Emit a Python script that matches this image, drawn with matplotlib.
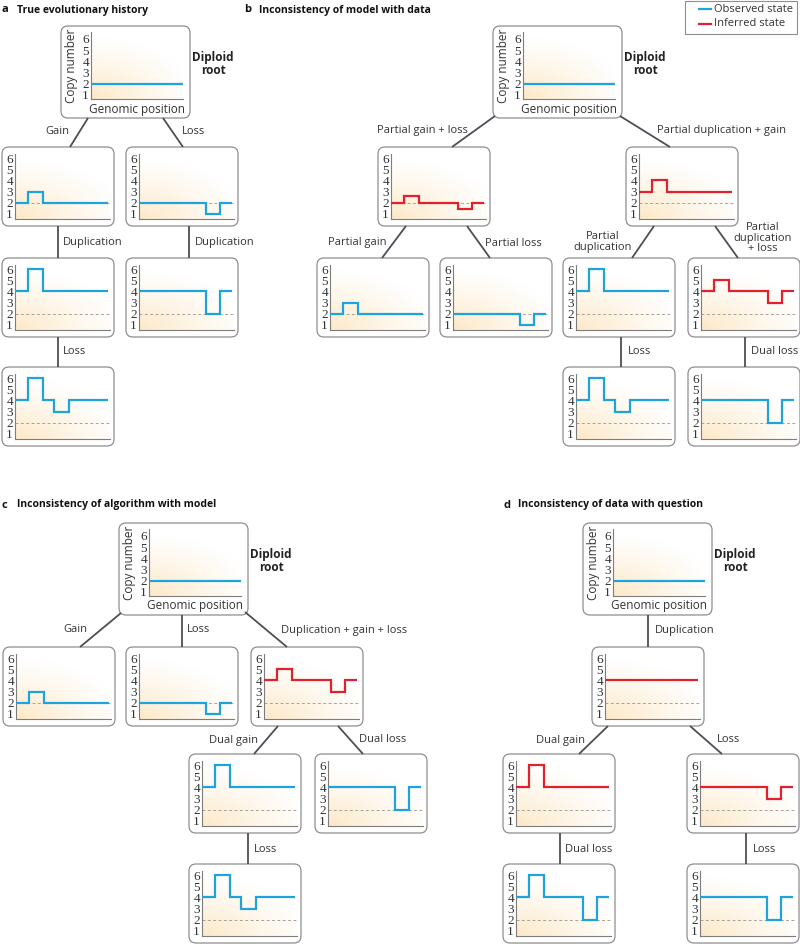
import numpy as np
import matplotlib.pyplot as plt
from matplotlib.patches import FancyBboxPatch, Rectangle

plt.rcParams['font.family'] = ['Open Sans', 'DejaVu Sans']

W, H = 800, 944
OBS = '#1fa3dd'
INF = '#e3212d'
LINK = '#4b5056'

# segment boundaries along the genome (fraction of genomic position)
edges = [0.0, 0.14, 0.30, 0.42, 0.58, 0.72, 0.87, 1.0]

# copy number of every segment
diploid = [2, 2, 2, 2, 2, 2, 2]
gain = [2, 3, 2, 2, 2, 2, 2]
loss = [2, 2, 2, 2, 2, 1, 2]
partial_gain_loss = [2, 2.6, 2, 2, 2, 1.4, 2]
partial_dup_gain = [3, 4, 3, 3, 3, 3, 3]
tetraploid = [4, 4, 4, 4, 4, 4, 4]
dup_gain = [4, 6, 4, 4, 4, 4, 4]
dup_loss = [4, 4, 4, 4, 4, 2, 4]
dup_gain_midloss = [4, 6, 4, 3, 4, 4, 4]
dup_gain_loss = [4, 5, 4, 4, 4, 3, 4]
dup_single_loss = [4, 4, 4, 4, 4, 3, 4]
dup_gain_dual_loss = [4, 6, 4, 4, 4, 2, 4]

# tree nodes: box top-left (px), profile, observed/inferred, root box?
nodes = [
    # a
    (61, 26, diploid, OBS, True),
    (2, 147, gain, OBS, False), (126, 147, loss, OBS, False),
    (2, 258, dup_gain, OBS, False), (126, 258, dup_loss, OBS, False),
    (2, 367, dup_gain_midloss, OBS, False),
    # b
    (493, 26, diploid, OBS, True),
    (378, 147, partial_gain_loss, INF, False), (626, 147, partial_dup_gain, INF, False),
    (317, 258, gain, OBS, False), (440, 258, loss, OBS, False),
    (563, 258, dup_gain, OBS, False), (688, 258, dup_gain_loss, INF, False),
    (563, 367, dup_gain_midloss, OBS, False), (688, 367, dup_loss, OBS, False),
    # c
    (119, 523, diploid, OBS, True),
    (3, 647, gain, OBS, False), (126, 647, loss, OBS, False), (251, 647, dup_gain_loss, INF, False),
    (189, 754, dup_gain, OBS, False), (315, 754, dup_loss, OBS, False),
    (189, 864, dup_gain_midloss, OBS, False),
    # d
    (583, 523, diploid, OBS, True),
    (592, 647, tetraploid, INF, False),
    (503, 754, dup_gain, INF, False), (687, 754, dup_single_loss, INF, False),
    (503, 864, dup_gain_dual_loss, OBS, False), (687, 864, dup_loss, OBS, False),
]

links = [
    (88, 118, 70, 147), (163, 118, 183, 147), (58, 226, 58, 258), (189, 226, 189, 258),
    (58, 337, 58, 367),
    (495, 116, 452, 147), (620, 116, 670, 147), (406, 226, 382, 258), (467, 226, 490, 258),
    (654, 226, 632, 258), (715, 226, 738, 258), (621, 337, 621, 367), (745, 337, 745, 367),
    (121, 613, 80, 647), (182, 615, 182, 647), (245, 612, 287, 647),
    (278, 726, 254, 754), (338, 726, 363, 754), (248, 833, 248, 864),
    (648, 615, 648, 647), (608, 726, 579, 754), (690, 726, 722, 754),
    (560, 833, 560, 864), (746, 833, 746, 864),
]

labels = [
    (45, 132, 'Gain', 'left'), (182, 132, 'Loss', 'left'),
    (63, 243, 'Duplication', 'left'), (195, 243, 'Duplication', 'left'),
    (63, 352, 'Loss', 'left'),
    (377, 130, 'Partial gain + loss', 'left'), (657, 130, 'Partial duplication + gain', 'left'),
    (328, 243, 'Partial gain', 'left'), (485, 243, 'Partial loss', 'left'),
    (603, 242, 'Partial\nduplication', 'center'), (763, 238, 'Partial\nduplication\n+ loss', 'center'),
    (628, 352, 'Loss', 'left'), (751, 352, 'Dual loss', 'left'),
    (63, 629, 'Gain', 'left'), (187, 629, 'Loss', 'left'), (281, 630, 'Duplication + gain + loss', 'left'),
    (209, 740, 'Dual gain', 'left'), (359, 740, 'Dual loss', 'left'), (254, 850, 'Loss', 'left'),
    (655, 630, 'Duplication', 'left'), (536, 740, 'Dual gain', 'left'), (717, 740, 'Loss', 'left'),
    (565, 850, 'Dual loss', 'left'), (753, 850, 'Loss', 'left'),
]

titles = [
    (2, 10, 'a', 'True evolutionary history'),
    (244, 10, 'b', 'Inconsistency of model with data'),
    (2, 505, 'c', 'Inconsistency of algorithm with model'),
    (503, 505, 'd', 'Inconsistency of data with question'),
]


def to_fig(x, y, w, h):
    return [x / W, 1 - (y + h) / H, w / W, h / H]


fig = plt.figure(figsize=(8, 9.44), dpi=100)
canvas = fig.add_axes([0, 0, 1, 1])
canvas.set_xlim(0, W)
canvas.set_ylim(H, 0)
canvas.axis('off')

# warm gradient used behind every profile
gu, gv = np.meshgrid(np.linspace(0, 1, 80), np.linspace(0, 1, 80))
wgt = np.clip(1 - np.sqrt((gu * 0.85) ** 2 + (gv * 1.05) ** 2), 0, 1) ** 1.2
grad = np.zeros((80, 80, 4))
grad[..., 0], grad[..., 1], grad[..., 2] = 0.99, 0.88, 0.70
grad[..., 3] = wgt * 0.72

for x0, y0, x1, y1 in links:
    canvas.plot([x0, x1], [y0, y1], color=LINK, lw=1.3, solid_capstyle='butt')

for x, y, txt, ha in labels:
    canvas.text(x, y, txt, ha=ha, va='center', fontsize=8, color='#333333', linespacing=0.95)

for x, y, letter, txt in titles:
    canvas.text(x, y, letter, ha='left', va='center', fontsize=8, fontweight='bold', color='#111111')
    canvas.text(x + 15, y, txt, ha='left', va='center', fontsize=7.5, fontweight='bold', color='#111111')

for x, y, prof, col, root in nodes:
    if root:
        bw, bh = 129, 92
        rect = (x + 30, y + 6, 92, 67)
        ylim, xlim = (0.64, 6.62), (0, 1)
    else:
        bw, bh = 112, 79
        rect = (x + 13, y + 7, 95, 65)
        ylim, xlim = (0.55, 6.36), (0, 1.02)
    canvas.add_patch(FancyBboxPatch((x, y), bw, bh, boxstyle='round,pad=0,rounding_size=7',
                                    fc='white', ec='#8e8e8e', lw=0.9))
    ax = fig.add_axes(to_fig(*rect))
    ax.patch.set_alpha(0)
    ax.imshow(grad, origin='lower', extent=(xlim[0], xlim[1], ylim[0], ylim[1]),
              aspect='auto', interpolation='bilinear', zorder=0)
    if not root:
        ax.axhline(2, ls=(0, (3, 2.5)), color='#aaa29b', lw=0.7, zorder=1)
    ax.stairs(prof, edges, baseline=None, color=col, lw=1.6, zorder=3, clip_on=False)
    ax.set_xlim(*xlim)
    ax.set_ylim(*ylim)
    ax.set_xticks([])
    ax.set_yticks([1, 2, 3, 4, 5, 6])
    ax.tick_params(axis='y', length=0, pad=1.5, labelsize=9.5, labelcolor='#333333')
    for lab in ax.get_yticklabels():
        lab.set_family('Liberation Serif')
    for s in ('top', 'right'):
        ax.spines[s].set_visible(False)
    for s in ('left', 'bottom'):
        ax.spines[s].set_color('#7d7d7d')
        ax.spines[s].set_linewidth(0.8)
    if root:
        canvas.text(x + 10, y + 40, 'Copy number', rotation=90, ha='center', va='center',
                    fontsize=8.5, color='#333333')
        canvas.text(x + 76, y + 83, 'Genomic position', ha='center', va='center',
                    fontsize=8.5, color='#333333')
        canvas.text(x + 152, y + 38, 'Diploid\nroot', ha='center', va='center', fontsize=8.5,
                    fontweight='bold', color='#222222', linespacing=1.05)

# legend
canvas.add_patch(Rectangle((685, 0.5), 112, 33, fc='white', ec='#8e8e8e', lw=0.8))
canvas.plot([699, 711], [9, 9], color=OBS, lw=1.6)
canvas.plot([699, 711], [24, 24], color=INF, lw=1.6)
canvas.text(714, 9, 'Observed state', va='center', fontsize=8, color='#333333')
canvas.text(714, 24, 'Inferred state', va='center', fontsize=8, color='#333333')

fig.savefig('out.png', dpi=100)
